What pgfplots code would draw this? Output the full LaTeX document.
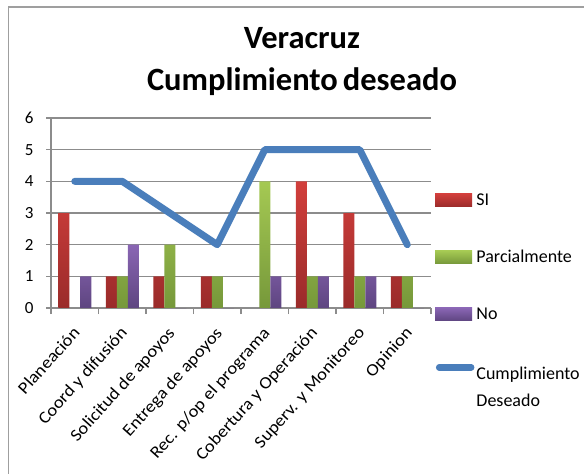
\documentclass[border=0pt]{standalone}
\usepackage{fontspec}
\setmainfont{Carlito}
\newfontfamily\xlabfont{Carlito}[FakeStretch=1.1]
\usepackage{pgfplots}
\pgfplotsset{compat=1.18}
\definecolor{redtop}{HTML}{D23F3C}
\definecolor{redbot}{HTML}{9A2B2A}
\definecolor{greentop}{HTML}{A5C953}
\definecolor{greenbot}{HTML}{76983A}
\definecolor{purtop}{HTML}{8A66B4}
\definecolor{purbot}{HTML}{5E4580}
\definecolor{lineblue}{HTML}{4A7EBB}
\definecolor{gridgray}{HTML}{8C8C8C}
\begin{document}
\begin{tikzpicture}
\useasboundingbox (0,0) rectangle (584bp,474bp);
\draw[gray!75, line width=1.3bp] (8.5bp,0) -- (8.5bp,467bp) -- (584bp,467bp);
\node[font=\bfseries\fontsize{32.5bp}{36bp}\selectfont, anchor=base] at (302bp,425bp) {Veracruz};
\node[font=\bfseries\fontsize{32.5bp}{36bp}\selectfont, anchor=base] at (302bp,383bp) {Cumplimiento\hspace{5bp}deseado};
\begin{axis}[
  at={(51bp,166bp)}, anchor=south west,
  scale only axis, width=380bp, height=190bp,
  xmin=-0.5, xmax=7.5, ymin=0, ymax=6,
  ytick={0,...,6},
  xtick={0,...,7},
  xticklabels={Planeación, Coord y difusión, Solicitud de apoyos, Entrega de apoyos, Rec. p/op el programa, Cobertura y Operación, Superv. y Monitoreo, Opinion},
  xticklabel style={xshift=-3bp, yshift=-16bp, rotate=48, anchor=north east, inner sep=1bp, font=\xlabfont\fontsize{17bp}{20bp}\selectfont},
  x tick style={draw=none},
  extra x ticks={-0.5,0.5,...,7.5},
  extra x tick labels={},
  extra x tick style={x tick style={draw=gridgray, line width=1.3bp}, major tick length=6bp, tick align=outside, xmajorgrids=false},
  axis lines*=left,
  axis line style={draw=gridgray, line width=1.3bp},
  ymajorgrids, grid style={draw=gridgray, line width=1.3bp},
  y tick style={draw=gridgray, line width=1.3bp},
  major tick length=10bp, ytick align=center,
  yticklabel style={font=\fontsize{17bp}{20bp}\selectfont, xshift=-9bp},
  /pgf/number format/assume math mode=true,
  clip=false,
  legend style={draw=none, fill=none, at={(1.0105,0.613)}, anchor=north west, row sep=39.5bp, inner sep=0pt,
    font=\fontsize{18bp}{21bp}\selectfont, nodes={inner sep=2bp}},
  legend cell align=left,
]
\addplot[ybar, bar width=11bp, bar shift=-11bp, draw=none, top color=redtop, bottom color=redbot,
  legend image code/.code={\shade[top color=redtop,bottom color=redbot] (0bp,-6.5bp) rectangle (37bp,6.5bp);}]
  coordinates {(0,3)(1,1)(2,1)(3,1)(4,0)(5,4)(6,3)(7,1)};
\addlegendentry{SI}
\addplot[ybar, bar width=11bp, bar shift=0bp, draw=none, top color=greentop, bottom color=greenbot,
  legend image code/.code={\shade[top color=greentop,bottom color=greenbot] (0bp,-6.5bp) rectangle (37bp,6.5bp);}]
  coordinates {(0,0)(1,1)(2,2)(3,1)(4,4)(5,1)(6,1)(7,1)};
\addlegendentry{Parcialmente}
\addplot[ybar, bar width=11bp, bar shift=11bp, draw=none, top color=purtop, bottom color=purbot,
  legend image code/.code={\shade[top color=purtop,bottom color=purbot] (0bp,-6.5bp) rectangle (37bp,6.5bp);}]
  coordinates {(0,1)(1,2)(2,0)(3,0)(4,1)(5,1)(6,1)(7,0)};
\addlegendentry{No}
\addplot[color=lineblue, line width=7bp, line cap=round, line join=round, mark=none,
  legend image code/.code={\draw[lineblue, line width=6.5bp, line cap=round] (4bp,12bp) -- (36bp,12bp);}]
  coordinates {(0,4)(1,4)(2,3)(3,2)(4,5)(5,5)(6,5)(7,2)};
\addlegendentry{\begin{tabular}{@{}l@{}}Cumplimiento\\[6bp]Deseado\end{tabular}}
\end{axis}
\end{tikzpicture}
\end{document}
